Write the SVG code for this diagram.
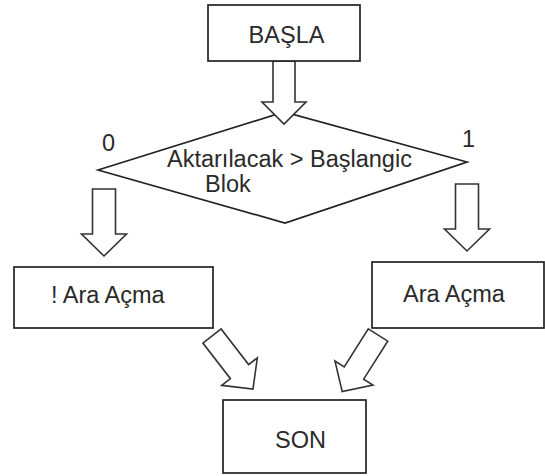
<svg xmlns="http://www.w3.org/2000/svg" width="545" height="476" viewBox="0 0 545 476">
<style>
.box{fill:#fff;stroke:#222;stroke-width:1.7}
.arr{fill:#fff;stroke:#333;stroke-width:1.6;stroke-linejoin:miter}
text{font-family:"Liberation Sans",Arial,sans-serif;font-size:23.5px;fill:#2a2a2a}
</style>
<defs>
<path id="a63" d="M-11,0 L11,0 L11,41 L22,41 L0,63 L-22,41 L-11,41 Z"/>
<path id="a67" d="M-11.5,0 L11.5,0 L11.5,45 L22.5,45 L0,67 L-22.5,45 L-11.5,45 Z"/>
</defs>
<rect width="545" height="476" fill="#fff"/>
<g id="decision">
<polygon class="box" points="98,170 284,112 467,162 285,223"/>
<text x="167" y="167">Aktarılacak &gt; Başlangic</text>
<text x="205" y="192">Blok</text>
</g>
<g id="connectors">
<use href="#a63" class="arr" transform="translate(284,61)"/>
<use href="#a67" class="arr" transform="translate(104,189)"/>
<use href="#a67" class="arr" transform="translate(467,184)"/>
<use href="#a67" class="arr" transform="translate(212,336) rotate(-37.7)"/>
<use href="#a67" class="arr" transform="translate(378,335) rotate(32.3)"/>
<text x="102" y="151">0</text>
<text x="462" y="147">1</text>
</g>
<g id="start">
<rect class="box" x="208" y="5" width="152" height="56"/>
<text x="286.5" y="43" text-anchor="middle">BAŞLA</text>
</g>
<g id="no-open">
<rect class="box" x="14" y="267" width="199" height="61"/>
<text x="51" y="303">! Ara Açma</text>
</g>
<g id="open">
<rect class="box" x="372" y="262" width="172" height="66"/>
<text x="403" y="302">Ara Açma</text>
</g>
<g id="end">
<rect class="box" x="223" y="400" width="143" height="73"/>
<text x="275" y="448">SON</text>
</g>
</svg>
